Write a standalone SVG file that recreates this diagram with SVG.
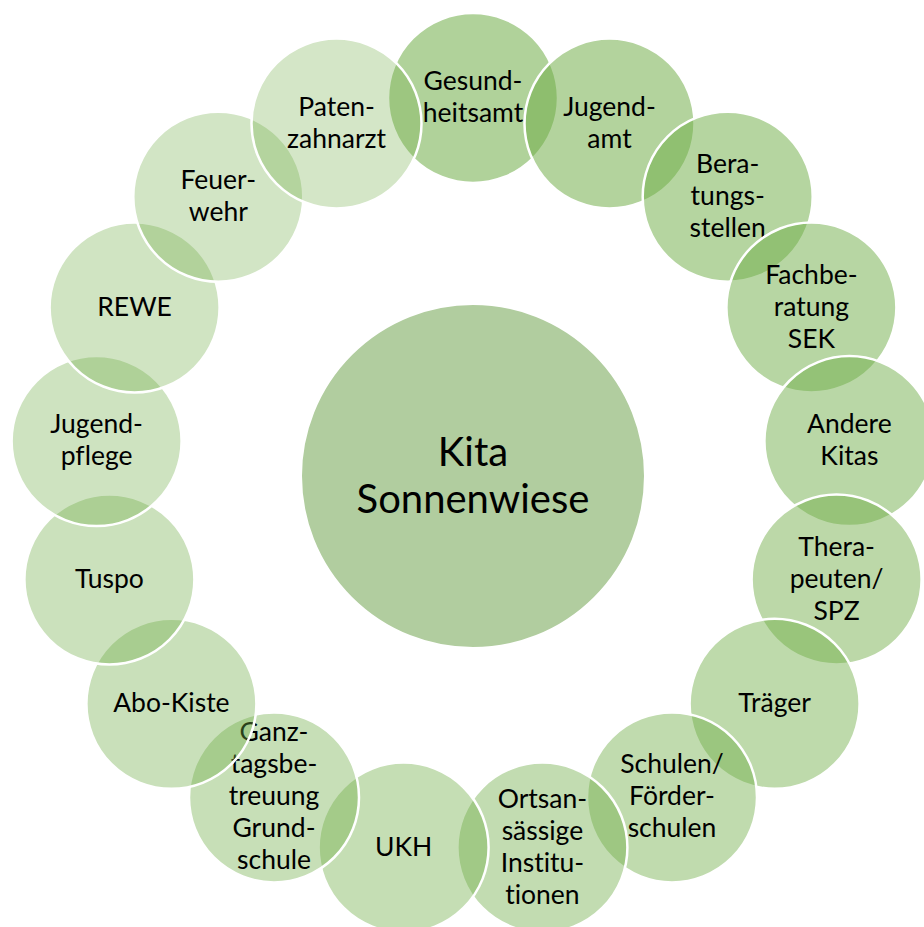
<svg xmlns="http://www.w3.org/2000/svg" width="924" height="927" viewBox="0 0 924 927">
<style>
.bg{fill:#ffffff}
.c{fill:#70ad47;stroke:#ffffff;stroke-width:2.5}
.center{fill:#b1cd9f;stroke:#ffffff;stroke-width:2}
.t{font-family:Lato,"Liberation Sans",sans-serif;font-size:26.5px;fill:#000000;text-anchor:middle;font-variant-ligatures:none;font-feature-settings:"liga" 0,"clig" 0}
.tc{font-family:Lato,"Liberation Sans",sans-serif;font-size:40px;fill:#000000;text-anchor:middle;font-variant-ligatures:none;font-feature-settings:"liga" 0,"clig" 0}
</style>
<rect class="bg" x="0" y="0" width="924" height="927"/>
<g id="connectors"/>
<g id="center-node">
<circle class="center" cx="473" cy="476" r="172"/>
<text class="tc" x="473" y="466">Kita</text>
<text class="tc" x="473" y="513">Sonnenwiese</text>
</g>
<g id="n0"><circle class="c" cx="473" cy="98" r="85" fill-opacity="0.55"/>
<text class="t" x="473" y="90">Gesund-</text><text class="t" x="473" y="122">heitsamt</text></g>
<g id="n1"><circle class="c" cx="609.5" cy="123.5" r="85" fill-opacity="0.534"/>
<text class="t" x="609.5" y="115.5">Jugend-</text><text class="t" x="609.5" y="147.5">amt</text></g>
<g id="n2"><circle class="c" cx="727.7" cy="196.7" r="85" fill-opacity="0.519"/>
<text class="t" x="727.7" y="172.7">Bera-</text><text class="t" x="727.7" y="204.7">tungs-</text><text class="t" x="727.7" y="236.7">stellen</text></g>
<g id="n3"><circle class="c" cx="811.4" cy="307.5" r="85" fill-opacity="0.503"/>
<text class="t" x="811.4" y="283.5">Fachbe-</text><text class="t" x="811.4" y="315.5">ratung</text><text class="t" x="811.4" y="347.5">SEK</text></g>
<g id="n4"><circle class="c" cx="849.4" cy="441.1" r="85" fill-opacity="0.488"/>
<text class="t" x="849.4" y="433">Andere</text><text class="t" x="849.4" y="465">Kitas</text></g>
<g id="n5"><circle class="c" cx="836.6" cy="579.5" r="85" fill-opacity="0.472"/>
<text class="t" x="836.6" y="555.5">Thera-</text><text class="t" x="836.6" y="587.5">peuten/</text><text class="t" x="836.6" y="619.5">SPZ</text></g>
<g id="n6"><circle class="c" cx="774.6" cy="703.8" r="85" fill-opacity="0.456"/>
<text class="t" x="774.6" y="711.8">Träger</text></g>
<g id="n7"><circle class="c" cx="672" cy="797.4" r="85" fill-opacity="0.441"/>
<text class="t" x="672" y="773.4">Schulen/</text><text class="t" x="672" y="805.4">Förder-</text><text class="t" x="672" y="837.4">schulen</text></g>
<g id="n8"><circle class="c" cx="542.4" cy="847.6" r="85" fill-opacity="0.425"/>
<text class="t" x="542.4" y="807.6">Ortsan-</text><text class="t" x="542.4" y="839.6">sässige</text><text class="t" x="542.4" y="871.6">Institu-</text><text class="t" x="542.4" y="903.6">tionen</text></g>
<g id="n9"><circle class="c" cx="403.6" cy="847.6" r="85" fill-opacity="0.409"/>
<text class="t" x="403.6" y="855.6">UKH</text></g>
<g id="n10"><circle class="c" cx="274" cy="797.4" r="85" fill-opacity="0.394"/>
<text class="t" x="274" y="741.4">Ganz-</text><text class="t" x="274" y="773.4">tagsbe-</text><text class="t" x="274" y="805.4">treuung</text><text class="t" x="274" y="837.4">Grund-</text><text class="t" x="274" y="869.4">schule</text></g>
<g id="n11"><circle class="c" cx="171.4" cy="703.8" r="85" fill-opacity="0.378"/>
<text class="t" x="171.4" y="711.8">Abo-Kiste</text></g>
<g id="n12"><circle class="c" cx="109.4" cy="579.5" r="85" fill-opacity="0.363"/>
<text class="t" x="109.4" y="587.5">Tuspo</text></g>
<g id="n13"><circle class="c" cx="96.6" cy="441.1" r="85" fill-opacity="0.347"/>
<text class="t" x="96.6" y="433">Jugend-</text><text class="t" x="96.6" y="465">pflege</text></g>
<g id="n14"><circle class="c" cx="134.6" cy="307.5" r="85" fill-opacity="0.331"/>
<text class="t" x="134.6" y="315.5">REWE</text></g>
<g id="n15"><circle class="c" cx="218.3" cy="196.7" r="85" fill-opacity="0.316"/>
<text class="t" x="218.3" y="188.7">Feuer-</text><text class="t" x="218.3" y="220.7">wehr</text></g>
<g id="n16"><circle class="c" cx="336.5" cy="123.5" r="85" fill-opacity="0.30"/>
<text class="t" x="336.5" y="115.5">Paten-</text><text class="t" x="336.5" y="147.5">zahnarzt</text></g>
</svg>
